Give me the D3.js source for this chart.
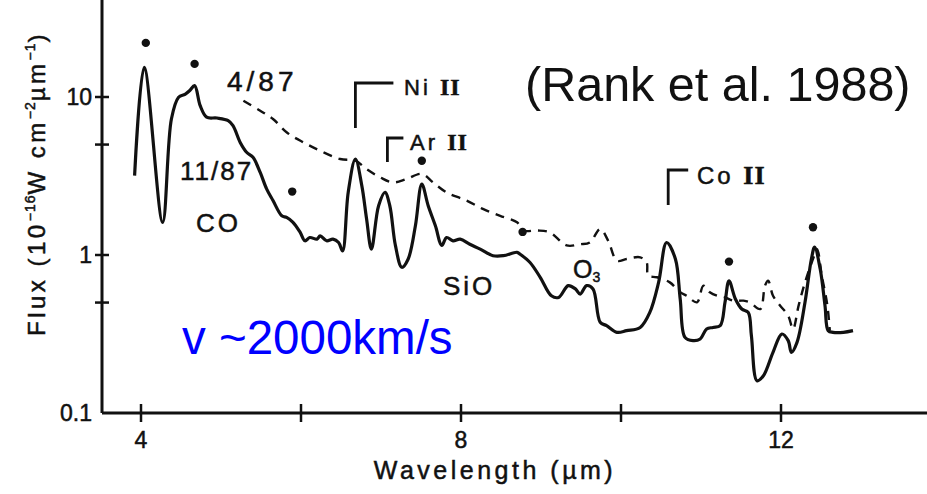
<!DOCTYPE html>
<html>
<head>
<meta charset="utf-8">
<script src="https://cdn.jsdelivr.net/npm/d3@7"></script>
<style>
  body { margin: 0; background: #fff; }
  svg { display: block; }
  text { font-family: "Liberation Sans", Arial, Helvetica, sans-serif; fill: #111; }
  .scan { stroke: #111; stroke-width: 0.5; }
</style>
</head>
<body>
<div id="chart"></div>
<script>
// spectre 11/87 (trait plein)
const solidWl = [3.92, 4.04, 4.27, 4.38, 4.47, 4.55, 4.61, 4.67, 4.74, 4.82, 4.95, 5.09, 5.15, 5.24, 5.32, 5.40, 5.49, 5.57, 5.65, 5.76,
  5.82, 5.90, 5.99, 6.05, 6.11, 6.20, 6.24, 6.32, 6.40, 6.47, 6.52, 6.59, 6.68, 6.76, 6.82, 6.88, 6.97, 7.05, 7.11, 7.18,
  7.26, 7.34, 7.43, 7.51, 7.59, 7.68, 7.76, 7.82, 7.90, 7.99, 8.11, 8.24, 8.40, 8.53, 8.70, 8.74, 8.86, 8.99, 9.13, 9.22,
  9.34, 9.43, 9.49, 9.57, 9.65, 9.74, 9.82, 9.95, 10.07, 10.24, 10.36, 10.47, 10.57, 10.68, 10.74, 10.80, 10.90, 10.99, 11.07, 11.15,
  11.24, 11.30, 11.35, 11.43, 11.51, 11.59, 11.63, 11.70, 11.78, 11.90, 12.01, 12.09, 12.13, 12.20, 12.30, 12.38, 12.42, 12.49, 12.55, 12.59,
  12.65, 12.78, 12.90];
const solidFlux = [3.18, 15.4, 1.61, 7.26, 9.96, 10.4, 11.0, 11.8, 8.81, 7.45, 7.36, 7.08, 6.58, 5.16, 4.47, 4.15, 3.33, 2.62, 2.21, 1.77,
  1.73, 1.61, 1.39, 1.23, 1.29, 1.26, 1.32, 1.23, 1.26, 1.20, 1.06, 2.49, 4.05, 2.75, 1.69, 1.09, 2.05, 2.49, 2.05, 1.15,
  0.836, 0.944, 1.53, 2.81, 2.05, 1.53, 1.15, 1.29, 1.23, 1.26, 1.17, 1.09, 0.99, 0.99, 1.04, 1.01, 0.90, 0.723, 0.552, 0.539,
  0.640, 0.610, 0.566, 0.640, 0.610, 0.375, 0.357, 0.324, 0.332, 0.348, 0.433, 0.671, 1.20, 0.944, 0.527, 0.301, 0.287, 0.294, 0.340, 0.348,
  0.357, 0.502, 0.687, 0.527, 0.455, 0.433, 0.308, 0.160, 0.172, 0.242, 0.316, 0.287, 0.242, 0.280, 0.502, 0.944, 1.12, 0.815, 0.478, 0.332,
  0.324, 0.324, 0.332];

// spectre 4/87 (tirets)
const dashWl = [5.28, 5.49, 5.65, 5.82, 6.03, 6.24, 6.49, 6.68, 6.82, 6.99, 7.15, 7.32, 7.51, 7.65, 7.82, 8.07, 8.28, 8.49, 8.70, 8.78,
  8.95, 9.11, 9.32, 9.49, 9.61, 9.74, 9.84, 9.95, 10.07, 10.24, 10.32, 10.34, 10.45, 10.61, 10.74, 10.82, 10.95, 11.03, 11.11, 11.20,
  11.30, 11.40, 11.53, 11.61, 11.74, 11.80, 11.84, 11.90, 11.99, 12.09, 12.15, 12.22, 12.30, 12.40, 12.45, 12.51, 12.58, 12.61];
const dashFlux = [9.48, 8.19, 7.26, 5.98, 5.16, 4.57, 4.05, 3.95, 3.50, 3.10, 2.88, 3.03, 3.26, 2.88, 2.49, 2.21, 1.95, 1.77, 1.61, 1.43,
  1.43, 1.39, 1.15, 1.17, 1.20, 1.46, 1.23, 0.92, 0.944, 0.967, 0.90, 0.740, 0.723, 0.671, 0.581, 0.552, 0.502, 0.640, 0.581, 0.552,
  0.539, 0.514, 0.514, 0.502, 0.455, 0.640, 0.687, 0.552, 0.478, 0.413, 0.340, 0.478, 0.671, 0.944, 1.09, 0.740, 0.478, 0.332];

// points (raies atmosphériques)
const dotWl = [4.06, 4.67, 5.89, 7.51, 8.77, 11.35, 12.40];
const dotFlux = [22.0, 16.2, 2.52, 3.95, 1.40, 0.908, 1.50];

// identifications des raies
const lineNames = ["Ni", "Ar", "Co"];
const lineWl = [6.68, 7.08, 10.59];

// graduations
const xTicks = [4, 6, 8, 10, 12];
const xLabels = [4, 8, 12];
const yTicks = [10, 5, 1, 0.5];
const yLabels = [10, 1, 0.1];

function drawChart() {
    const width = 927;
    const height = 494;

    const svg = d3.select("#chart").append("svg")
        .attr("width", width)
        .attr("height", height);

    const x = d3.scaleLinear().domain([4, 12]).range([141, 781]);
    const y = d3.scaleLog().domain([0.1, 10]).range([413, 97]);

    const ink = "#111";

    // axes
    svg.append("line")
        .attr("x1", 102).attr("x2", 102)
        .attr("y1", 0).attr("y2", y(0.1))
        .attr("stroke", ink).attr("stroke-width", 3);
    svg.append("line")
        .attr("x1", 102).attr("x2", width)
        .attr("y1", y(0.1)).attr("y2", y(0.1))
        .attr("stroke", ink).attr("stroke-width", 3);

    // graduations x
    svg.selectAll(".xtick").data(xTicks).join("line")
        .attr("x1", d => x(d)).attr("x2", d => x(d))
        .attr("y1", y(0.1) - 9).attr("y2", y(0.1) + 9)
        .attr("stroke", ink).attr("stroke-width", 2.5);
    svg.selectAll(".xlab").data(xLabels).join("text")
        .attr("class", "scan")
        .attr("x", d => x(d)).attr("y", 448)
        .attr("text-anchor", "middle")
        .attr("font-size", 23)
        .text(d => d);

    // graduations y
    svg.selectAll(".ytick").data(yTicks).join("line")
        .attr("x1", 95).attr("x2", 109)
        .attr("y1", d => y(d)).attr("y2", d => y(d))
        .attr("stroke", ink).attr("stroke-width", 2.5);
    svg.selectAll(".ylab").data(yLabels).join("text")
        .attr("class", "scan")
        .attr("x", 92).attr("y", d => y(d) + 8)
        .attr("text-anchor", "end")
        .attr("font-size", 23)
        .text(d => d);

    // titres des axes
    svg.append("text")
        .attr("class", "scan")
        .attr("x", 495).attr("y", 479)
        .attr("text-anchor", "middle")
        .attr("font-size", 25)
        .attr("letter-spacing", 3.5)
        .text("Wavelength (µm)");

    const yt = svg.append("text")
        .attr("class", "scan")
        .attr("transform", "translate(45,336) rotate(-90)")
        .attr("font-size", 24)
        .attr("letter-spacing", 3.5);
    yt.append("tspan").text("Flux (10");
    yt.append("tspan").attr("font-size", 14).attr("dy", -10).attr("letter-spacing", 1).text("−16");
    yt.append("tspan").attr("dy", 10).text("W cm");
    yt.append("tspan").attr("font-size", 14).attr("dy", -10).attr("letter-spacing", 1).text("−2");
    yt.append("tspan").attr("dy", 10).text("µm");
    yt.append("tspan").attr("font-size", 14).attr("dy", -10).attr("letter-spacing", 1).text("−1");
    yt.append("tspan").attr("dy", 10).text(")");

    // courbes
    const line = d3.line()
        .x(d => x(d[0]))
        .y(d => y(d[1]))
        .curve(d3.curveCatmullRom.alpha(0.5));

    svg.append("path")
        .datum(dashWl.map((w, i) => [w, dashFlux[i]]))
        .attr("d", line)
        .attr("fill", "none")
        .attr("stroke", ink)
        .attr("stroke-width", 2.4)
        .attr("stroke-dasharray", "9,7");

    svg.append("path")
        .datum(solidWl.map((w, i) => [w, solidFlux[i]]))
        .attr("d", line)
        .attr("fill", "none")
        .attr("stroke", ink)
        .attr("stroke-width", 3.2)
        .attr("stroke-linejoin", "round");

    svg.selectAll(".dot").data(dotWl).join("circle")
        .attr("cx", d => x(d))
        .attr("cy", (d, i) => y(dotFlux[i]))
        .attr("r", 4.2)
        .attr("fill", ink);

    // crochets des raies
    const brackets = [
        { top: 83, bottom: 128, arm: 38, tx: 404, ty: 95, fs: 22 },
        { top: 138, bottom: 162, arm: 16, tx: 410, ty: 150, fs: 22 },
        { top: 170, bottom: 205, arm: 20, tx: 697, ty: 184, fs: 24 }
    ];
    brackets.forEach((b, i) => {
        const bx = x(lineWl[i]);
        svg.append("path")
            .attr("d", `M${bx},${b.bottom}V${b.top}H${bx + b.arm}`)
            .attr("fill", "none")
            .attr("stroke", ink)
            .attr("stroke-width", 2.8);
        const t = svg.append("text")
            .attr("class", "scan")
            .attr("x", b.tx).attr("y", b.ty)
            .attr("font-size", b.fs)
            .attr("letter-spacing", 3);
        t.append("tspan").text(lineNames[i] + " ");
        t.append("tspan")
            .style("font-family", "'Liberation Serif', 'DejaVu Serif', serif")
            .attr("font-weight", "bold")
            .attr("letter-spacing", 1)
            .attr("font-size", b.fs + 2)
            .text("II");
    });

    // étiquettes
    const labels = [
        { t: "4/87", x: 227, y: 91, fs: 28, ls: 4 },
        { t: "11/87", x: 180, y: 180, fs: 26, ls: 2 },
        { t: "CO", x: 196, y: 232, fs: 26, ls: 3 },
        { t: "SiO", x: 443, y: 295, fs: 26, ls: 3 }
    ];
    labels.forEach(l => {
        svg.append("text")
            .attr("class", "scan")
            .attr("x", l.x).attr("y", l.y)
            .attr("font-size", l.fs)
            .attr("letter-spacing", l.ls)
            .text(l.t);
    });

    const o3 = svg.append("text").attr("class", "scan").attr("x", 573).attr("y", 278).attr("font-size", 25);
    o3.append("tspan").text("O");
    o3.append("tspan").attr("font-size", 14).attr("dy", 4).text("3");

    svg.append("text")
        .attr("x", 525).attr("y", 101)
        .attr("font-size", 48.5)
        .text("(Rank et al. 1988)");

    svg.append("text")
        .attr("x", 182).attr("y", 354)
        .attr("font-size", 47.5)
        .style("fill", "#0000ff")
        .text("v ~2000km/s");
}

drawChart();
</script>
</body>
</html>
